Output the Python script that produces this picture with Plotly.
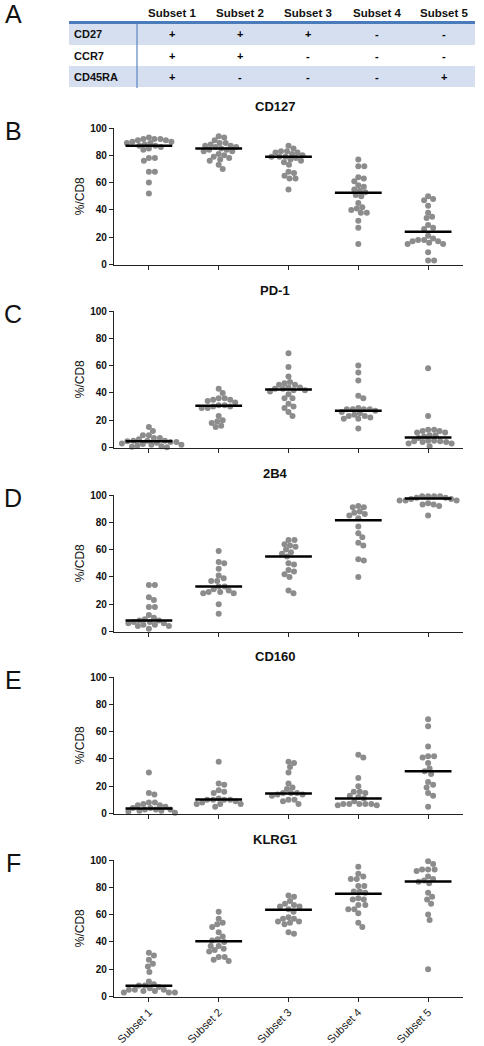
import plotly.graph_objects as go
import numpy as np

W, H = 484, 1046

# ---------------- data ----------------
subsets = ["Subset 1", "Subset 2", "Subset 3", "Subset 4", "Subset 5"]
table_rows = ["CD27", "CCR7", "CD45RA"]
cd27_signs = ["+", "+", "+", "-", "-"]
ccr7_signs = ["+", "+", "-", "-", "-"]
cd45ra_signs = ["+", "-", "-", "-", "+"]

panel_titles = ["CD127", "PD-1", "2B4", "CD160", "KLRG1"]
panel_letters = ["B", "C", "D", "E", "F"]
y_ticks = [0, 20, 40, 60, 80, 100]

cd127 = [
    [92, 92, 91, 93, 91, 92, 90, 89, 90, 89, 88, 87, 87, 86, 85, 84, 78, 78, 76, 68, 68, 60, 52],
    [94, 93, 91, 89, 89, 88, 87, 87, 86, 86, 85, 84, 84, 83, 83, 81, 80, 79, 78, 77, 76, 73, 70],
    [87, 85, 83, 83, 82, 82, 81, 80, 79, 79, 79, 78, 77, 76, 75, 73, 68, 67, 65, 63, 63, 55],
    [77, 72, 72, 64, 63, 61, 58, 57, 55, 54, 53, 51, 50, 45, 42, 41, 40, 38, 38, 32, 27, 15],
    [50, 48, 47, 43, 38, 35, 34, 29, 27, 26, 21, 19, 18, 18, 17, 17, 16, 15, 15, 9, 3, 3],
]
cd127_median = [87, 85, 79, 52.5, 24]

pd1 = [
    [15, 12, 9, 9, 7, 7, 6, 5, 5, 5, 4.5, 4, 4, 3.5, 3, 2.5, 2, 2, 1.5, 1, 0.5, 0.2],
    [43, 40, 36, 36, 35, 35, 34, 33, 31, 31, 30, 30, 29, 29, 23, 20, 19, 18, 16, 15],
    [69, 59, 52, 48, 47, 46, 46, 44, 44, 43, 43, 42, 42, 41, 39, 36, 36, 32, 30, 29, 26, 23],
    [60, 55, 49, 38, 36, 29, 28, 28, 28, 28, 27, 26, 25, 24, 23, 23, 22, 21, 21, 14],
    [58, 23, 13, 13, 12, 12, 11, 11, 9, 9, 8, 7, 5, 5, 4.5, 4.5, 4, 4, 3, 3, 1],
]
pd1_median = [4.5, 30.5, 42.5, 27, 7.3]

b2b4 = [
    [34, 34, 25, 23, 18, 18, 12, 10, 9, 8, 8, 7, 7, 6, 6, 5, 5, 4, 4, 2],
    [59, 51, 50, 46, 41, 39, 37, 37, 33, 33, 31, 30, 29, 29, 28, 28, 20, 13],
    [67, 67, 64, 63, 62, 60, 58, 57, 55, 50, 49, 45, 44, 42, 40, 30, 28],
    [92, 91, 91, 88, 87, 86, 85, 83, 77, 72, 69, 65, 63, 53, 52, 40],
    [99, 99, 99, 99, 98, 98, 97, 97, 96, 96, 96, 94, 93, 93, 92, 85],
]
b2b4_median = [8, 33, 55, 81.5, 97.5]

cd160 = [
    [30, 15, 14, 8, 8, 7, 6, 6, 5, 4, 4, 3, 3, 3, 2, 2, 1.5, 0.5],
    [38, 22, 21, 17, 16, 15, 11, 10, 10, 10, 10, 9, 8, 7, 7, 7, 5],
    [38, 37, 34, 30, 22, 19, 18, 15, 15, 15, 14, 14, 13, 10, 10, 9, 7],
    [43, 41, 26, 20, 16, 16, 15, 13, 12, 11, 9, 7, 7, 7, 7, 7, 6, 6],
    [69, 64, 49, 42, 42, 41, 37, 33, 31, 29, 23, 21, 19, 15, 13, 5],
]
cd160_median = [3.7, 10.2, 14.6, 11, 31]

klrg1 = [
    [32, 30, 27, 24, 22, 18, 11, 9, 8, 8, 7, 6, 5, 5, 5, 4, 4, 3, 3, 3],
    [62, 57, 54, 53, 51, 47, 44, 42, 41, 40, 37, 37, 35, 34, 33, 29, 29, 27, 26],
    [74, 73, 70, 68, 67, 66, 66, 64, 62, 58, 57, 57, 55, 55, 54, 53, 47, 46],
    [95, 90, 88, 86, 86, 81, 81, 77, 77, 76, 72, 71, 71, 67, 67, 64, 64, 61, 54, 51],
    [99, 97, 93, 93, 93, 92, 88, 86, 85, 84, 83, 76, 73, 71, 68, 60, 56, 20],
]
klrg1_median = [7.8, 40.5, 63.6, 75.2, 84.2]

panel_data = [cd127, pd1, b2b4, cd160, klrg1]
panel_medians = [cd127_median, pd1_median, b2b4_median, cd160_median, klrg1_median]

# ---------------- layout geometry (pixels) ----------------
X0, X1 = 114, 463
panel_tops = [128, 311, 495, 677, 860]
panel_h = 136.5
px_per_cat = (X1 - X0) / 5.0
px_per_unit = panel_h / 100.0
DOT = 5.6
GRAY = "#8c8c8c"
FONT = "Liberation Sans, Arial, sans-serif"


def px(x):
    return x / W


def py(y):
    return 1 - y / H


def swarm(values):
    """Deterministic beeswarm offsets (in category units)."""
    order = np.argsort(-np.asarray(values, dtype=float), kind="stable")
    placed = []
    offs = np.zeros(len(values))
    steps = [0.0]
    for k in range(1, 120):
        steps += [k * 0.5, -k * 0.5]
    for i in order:
        yp = values[i] * px_per_unit
        for s in steps:
            ok = True
            for (xq, yq) in placed:
                if (s - xq) ** 2 + (yp - yq) ** 2 < DOT ** 2:
                    ok = False
                    break
            if ok:
                placed.append((s, yp))
                offs[i] = s / px_per_cat
                break
    return offs


fig = go.Figure()
annotations = []
shapes = []

for p in range(5):
    ax = "" if p == 0 else str(p + 1)
    xs, ys = [], []
    for c in range(5):
        vals = panel_data[p][c]
        offs = swarm(vals)
        xs += list(c + offs)
        ys += list(vals)
    fig.add_trace(go.Scatter(
        x=xs, y=ys, mode="markers", xaxis="x" + ax, yaxis="y" + ax,
        marker=dict(size=6, color=GRAY, line=dict(width=0)),
        cliponaxis=False, showlegend=False, hoverinfo="y"))
    mx, my = [], []
    for c in range(5):
        mx += [c - 0.335, c + 0.335, None]
        my += [panel_medians[p][c], panel_medians[p][c], None]
    fig.add_trace(go.Scatter(
        x=mx, y=my, mode="lines", xaxis="x" + ax, yaxis="y" + ax,
        line=dict(color="black", width=2.5), cliponaxis=False,
        showlegend=False, hoverinfo="skip"))

    top = panel_tops[p]
    bot = top + panel_h
    last = (p == 4)
    fig.update_layout(**{
        "xaxis" + ax: dict(
            domain=[px(X0), px(X1)], anchor="y" + ax, range=[-0.5, 4.5],
            tickmode="array", tickvals=list(range(5)),
            ticktext=subsets if last else [""] * 5,
            showticklabels=last, tickangle=-45,
            tickfont=dict(family=FONT, size=11, color="#222"),
            ticks="outside", ticklen=4, tickwidth=1.3, tickcolor="#222",
            showline=True, linecolor="#222", linewidth=1.3,
            showgrid=False, zeroline=False, automargin=False, fixedrange=True),
        "yaxis" + ax: dict(
            domain=[py(bot), py(top)], anchor="x" + ax, range=[0, 100],
            tickmode="array", tickvals=y_ticks,
            tickfont=dict(family=FONT, size=10, color="#111", weight="bold"),
            ticks="outside", ticklen=4, tickwidth=1.3, tickcolor="#222",
            showline=True, linecolor="#222", linewidth=1.3,
            showgrid=False, zeroline=False, automargin=False, fixedrange=True),
    })
    annotations.append(dict(
        text=panel_titles[p], x=px(275), y=py(top - 21), xref="paper", yref="paper",
        showarrow=False, xanchor="center", yanchor="middle",
        font=dict(family=FONT, size=13, color="#111", weight="bold")))
    annotations.append(dict(
        text="%/CD8", x=px(80), y=py(top + panel_h / 2), xref="paper", yref="paper",
        showarrow=False, textangle=-90, xanchor="center", yanchor="middle",
        font=dict(family=FONT, size=12, color="#111")))
    annotations.append(dict(
        text=panel_letters[p], x=px(13), y=py(top + 3), xref="paper", yref="paper",
        showarrow=False, xanchor="center", yanchor="middle",
        font=dict(family=FONT, size=25, color="#111")))

# ---------------- table (panel A) ----------------
annotations.append(dict(
    text="A", x=px(13), y=py(14), xref="paper", yref="paper",
    showarrow=False, xanchor="center", yanchor="middle",
    font=dict(family=FONT, size=25, color="#111")))
col_x = [172, 240, 308, 377, 444]
row_y = [34, 56, 77]
row_signs = [cd27_signs, ccr7_signs, cd45ra_signs]
band = "#d5dfef"
shapes.append(dict(type="rect", xref="paper", yref="paper",
                   x0=px(69), x1=px(475), y0=py(45), y1=py(23),
                   fillcolor=band, line=dict(width=0), layer="below"))
shapes.append(dict(type="rect", xref="paper", yref="paper",
                   x0=px(69), x1=px(475), y0=py(87), y1=py(66),
                   fillcolor=band, line=dict(width=0), layer="below"))
shapes.append(dict(type="line", xref="paper", yref="paper",
                   x0=px(137), x1=px(137), y0=py(88), y1=py(23),
                   line=dict(color="#5b86bf", width=1.2)))
shapes.append(dict(type="line", xref="paper", yref="paper",
                   x0=px(69), x1=px(475), y0=py(22.5), y1=py(22.5),
                   line=dict(color="#4a7bbb", width=3)))
for c, s in enumerate(subsets):
    annotations.append(dict(
        text=s, x=px(col_x[c]), y=py(13), xref="paper", yref="paper",
        showarrow=False, xanchor="center", yanchor="middle",
        font=dict(family=FONT, size=11.5, color="#111", weight="bold")))
for r, name in enumerate(table_rows):
    annotations.append(dict(
        text=name, x=px(72), y=py(row_y[r]), xref="paper", yref="paper",
        showarrow=False, xanchor="left", yanchor="middle",
        font=dict(family=FONT, size=11, color="#111", weight="bold")))
    for c in range(5):
        annotations.append(dict(
            text=row_signs[r][c], x=px(col_x[c]), y=py(row_y[r]), xref="paper", yref="paper",
            showarrow=False, xanchor="center", yanchor="middle",
            font=dict(family=FONT, size=11, color="#000", weight="bold")))

fig.update_layout(
    width=W, height=H, margin=dict(l=0, r=0, t=0, b=0),
    paper_bgcolor="white", plot_bgcolor="white",
    annotations=annotations, shapes=shapes, showlegend=False,
    font=dict(family=FONT),
)

fig.write_html("out.html", config={"displayModeBar": False},
               post_script="document.body.style.margin='0';document.body.style.padding='0';")
